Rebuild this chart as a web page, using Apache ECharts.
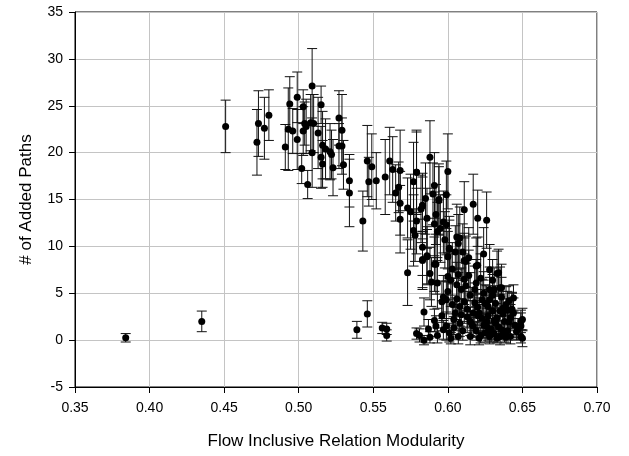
<!DOCTYPE html>
<html lang="en">
<head>
    <meta charset="utf-8" />
    <title>Added paths vs modularity</title>
    <script src="https://cdn.jsdelivr.net/npm/echarts@6/dist/echarts.min.js"></script>
    <style>
        html, body { margin: 0; padding: 0; background: #fff; }
        #main { width: 629px; height: 456px; }
    </style>
</head>
<body>
    <div id="main"></div>
    <script>
        // flow inclusive relation modularity (x)
        var modularity = [
            0.384, 0.435, 0.451, 0.472, 0.473, 0.477, 0.480, 0.491, 0.493, 0.494,
            0.496, 0.499, 0.499, 0.502, 0.503, 0.503, 0.504, 0.505, 0.506, 0.508,
            0.509, 0.509, 0.510, 0.513, 0.515, 0.515, 0.516, 0.516, 0.518, 0.521,
            0.522, 0.523, 0.527, 0.529, 0.527, 0.529, 0.530, 0.534, 0.534, 0.543,
            0.546, 0.547, 0.549, 0.552, 0.558, 0.561, 0.563, 0.565, 0.567, 0.568,
            0.568, 0.568, 0.573, 0.575, 0.573, 0.577, 0.579, 0.579, 0.577, 0.578,
            0.582, 0.583, 0.585, 0.586, 0.588, 0.583, 0.586, 0.583, 0.591, 0.590,
            0.594, 0.592, 0.599, 0.600, 0.591, 0.595, 0.593, 0.597, 0.599, 0.598,
            0.601, 0.592, 0.611, 0.617, 0.620, 0.626, 0.606, 0.608, 0.607, 0.610,
            0.605, 0.614, 0.611, 0.619, 0.600, 0.624, 0.620, 0.634, 0.636, 0.630,
            0.628, 0.640, 0.643, 0.650, 0.649, 0.650, 0.601, 0.612, 0.600, 0.602,
            0.607, 0.606, 0.611, 0.609, 0.615, 0.618, 0.597, 0.599, 0.603, 0.608,
            0.611, 0.623, 0.626, 0.628, 0.635, 0.630, 0.617, 0.613, 0.604, 0.599,
            0.601, 0.607, 0.615, 0.621, 0.628, 0.635, 0.642, 0.649, 0.626, 0.632,
            0.638, 0.645, 0.617, 0.608, 0.539, 0.546, 0.556, 0.559, 0.559, 0.584,
            0.579, 0.581, 0.584, 0.587, 0.591, 0.592, 0.593, 0.588, 0.597, 0.602,
            0.583, 0.586, 0.588, 0.591, 0.589, 0.593, 0.596, 0.600, 0.633, 0.635,
            0.643, 0.649, 0.583, 0.594, 0.579, 0.619, 0.623, 0.625, 0.627, 0.629,
            0.631, 0.633, 0.636, 0.637, 0.640, 0.620, 0.624, 0.628, 0.630, 0.615,
            0.610, 0.605, 0.632, 0.626, 0.622, 0.642, 0.646, 0.639, 0.641, 0.644,
            0.604, 0.609, 0.613, 0.616, 0.618, 0.621, 0.624, 0.627, 0.629, 0.631,
            0.634, 0.637, 0.639, 0.641, 0.644, 0.647, 0.612, 0.619, 0.625, 0.631,
            0.636, 0.622, 0.627, 0.633, 0.606, 0.614, 0.620, 0.596, 0.603, 0.638
        ];
        // # of added paths (mean)
        var addedPaths = [
            0.25, 2.0, 22.8, 21.1, 23.1, 22.6, 24.0, 20.6, 22.5, 25.2,
            22.3, 21.4, 25.9, 18.3, 24.9, 22.3, 23.1, 22.8, 16.6, 23.2,
            20.0, 27.1, 23.1, 22.1, 25.1, 19.5, 20.8, 18.8, 20.4, 20.1,
            19.8, 18.4, 23.7, 22.4, 20.7, 20.7, 18.7, 17.0, 15.7, 12.7,
            19.1, 16.9, 18.5, 17.0, 17.4, 19.1, 18.2, 15.7, 16.3, 18.1,
            14.6, 12.9, 14.1, 13.7, 7.2, 16.9, 17.9, 12.7, 11.7, 11.2,
            14.0, 14.4, 15.1, 13.0, 19.5, 9.9, 8.9, 8.5, 16.5, 15.6,
            15.0, 13.4, 15.5, 18.0, 12.4, 11.9, 11.6, 12.6, 12.3, 10.7,
            9.8, 8.1, 13.9, 14.5, 13.0, 12.8, 11.0, 10.9, 10.3, 9.4,
            9.4, 8.8, 8.5, 7.9, 8.9, 9.2, 8.0, 7.2, 5.6, 6.4,
            5.4, 3.2, 3.3, 2.2, 1.5, 0.2, 9.7, 8.4, 6.8, 6.4,
            7.0, 5.9, 6.5, 5.4, 4.8, 5.4, 4.6, 4.3, 3.8, 3.6,
            4.1, 4.3, 3.8, 4.3, 3.1, 3.1, 2.9, 2.5, 2.2, 1.5,
            0.8, 0.4, 0.4, 0.2, 0.4, 0.4, 0.4, 0.4, 1.5, 1.8,
            2.0, 1.6, 1.5, 1.8, 1.1, 2.8, 1.3, 1.2, 0.5, 3.0,
            0.7, 0.5, 0.0, 1.2, 2.1, 1.5, 0.5, 0.3, 1.1, 0.2,
            8.6, 9.0, 7.1, 8.1, 6.2, 6.1, 4.1, 5.2, 7.1, 5.6,
            3.2, 2.0, 14.3, 14.9, 17.9, 1.0, 2.3, 0.8, 2.6, 1.2,
            0.7, 2.4, 1.1, 2.8, 1.0, 3.5, 5.0, 7.5, 4.8, 2.0,
            1.0, 2.9, 3.9, 2.0, 0.5, 2.4, 0.9, 3.8, 4.2, 4.5,
            1.3, 2.7, 3.3, 1.7, 4.0, 2.9, 1.6, 3.6, 0.6, 2.1,
            1.4, 3.4, 0.3, 1.9, 2.9, 1.2, 5.8, 6.1, 3.9, 5.4,
            4.6, 6.6, 0.9, 0.2, 4.4, 6.9, 2.6, 2.6, 7.6, 0.6
        ];
        // half length of the error bar
        var errHalf = [
            0.45, 1.1, 2.8, 3.5, 3.5, 3.3, 2.7, 2.4, 4.4, 2.9,
            2.4, 3.2, 2.7, 1.6, 1.8, 2.6, 2.3, 2.9, 1.5, 3.0,
            3.7, 4.0, 3.1, 3.8, 2.0, 3.3, 3.6, 2.5, 3.2, 3.0,
            2.6, 3.0, 2.9, 3.8, 2.4, 3.0, 2.6, 2.8, 3.6, 3.2,
            3.8, 2.6, 3.5, 3.0, 4.0, 3.6, 3.5, 3.0, 2.7, 4.3,
            3.4, 3.6, 3.2, 4.0, 3.5, 4.2, 4.5, 3.5, 3.8, 2.8,
            3.6, 3.0, 3.8, 3.2, 3.9, 3.0, 2.9, 3.1, 3.5, 3.3,
            3.8, 3.2, 3.6, 4.0, 3.4, 3.6, 3.1, 3.3, 3.2, 3.0,
            3.4, 3.2, 3.0, 3.2, 3.0, 3.0, 3.5, 3.3, 3.1, 3.0,
            2.8, 3.2, 2.9, 3.0, 2.7, 2.8, 3.0, 2.5, 2.5, 2.2,
            2.4, 2.0, 1.8, 1.2, 1.4, 0.9, 3.1, 2.7, 2.5, 2.8,
            2.6, 2.4, 2.7, 2.3, 2.4, 2.5, 2.3, 2.0, 2.2, 2.1,
            2.3, 2.2, 2.0, 2.4, 1.8, 2.0, 1.9, 1.7, 1.6, 1.5,
            1.0, 0.8, 0.9, 0.7, 0.8, 0.9, 0.8, 0.7, 1.3, 1.4,
            1.5, 1.3, 1.2, 1.4, 0.9, 1.4, 0.6, 0.6, 0.6, 1.5,
            0.6, 0.7, 0.5, 1.0, 1.2, 1.1, 0.8, 0.6, 1.0, 0.6,
            3.0, 3.1, 2.8, 2.9, 2.6, 2.7, 2.2, 2.4, 2.4, 2.2,
            1.8, 1.2, 3.5, 3.6, 4.3, 1.0, 1.5, 1.0, 1.6, 1.1,
            0.9, 1.5, 1.0, 1.6, 1.0, 1.9, 2.3, 2.7, 2.2, 1.5,
            1.0, 1.6, 1.9, 1.4, 0.8, 1.4, 0.9, 1.9, 1.6, 1.4,
            1.2, 1.7, 1.9, 1.3, 2.1, 1.6, 1.3, 1.8, 0.8, 1.4,
            1.2, 1.8, 0.6, 1.3, 1.6, 1.1, 2.4, 2.5, 2.0, 2.3,
            2.1, 2.6, 0.9, 0.5, 2.2, 2.7, 1.6, 1.6, 2.8, 0.8
        ];

        var xTicks = { min: 0.35, max: 0.70, step: 0.05 };
        var yTicks = { min: -5, max: 35, step: 5 };

        var points = [];
        var bars = [];
        for (var i = 0; i < modularity.length; i++) {
            points.push([modularity[i], addedPaths[i]]);
            bars.push([modularity[i], addedPaths[i], errHalf[i]]);
        }

        var font = "'Liberation Sans', Arial, sans-serif";
        var chart = echarts.init(document.getElementById('main'));

        var option = {
            animation: false,
            backgroundColor: '#fff',
            grid: {
                left: 75, right: 32, top: 12, bottom: 69,
                show: true, borderColor: '#000', borderWidth: 1
            },
            xAxis: {
                type: 'value',
                min: xTicks.min, max: xTicks.max, interval: xTicks.step,
                name: 'Flow Inclusive Relation Modularity',
                nameLocation: 'middle',
                nameGap: 46,
                nameTextStyle: { color: '#000', fontSize: 17, fontFamily: font },
                axisLine: { onZero: false, lineStyle: { color: '#000', width: 1 } },
                axisTick: { show: true, length: 6, lineStyle: { color: '#000' } },
                axisLabel: {
                    color: '#000', fontSize: 14, fontFamily: font, margin: 14,
                    formatter: function (v) { return v.toFixed(2); }
                },
                splitLine: { show: true, lineStyle: { color: '#c4c4c4', width: 1 } }
            },
            yAxis: {
                type: 'value',
                min: yTicks.min, max: yTicks.max, interval: yTicks.step,
                name: '# of Added Paths',
                nameLocation: 'middle',
                nameGap: 40,
                nameTextStyle: { color: '#000', fontSize: 17, fontFamily: font },
                axisLine: { show: true, onZero: false, lineStyle: { color: '#000', width: 1 } },
                axisTick: { show: true, length: 6, lineStyle: { color: '#000' } },
                axisLabel: { color: '#000', fontSize: 14, fontFamily: font, margin: 12 },
                splitLine: { show: true, lineStyle: { color: '#c4c4c4', width: 1 } }
            },
            series: [
                {
                    type: 'custom',
                    data: bars,
                    encode: { x: 0, y: 1 },
                    silent: true,
                    renderItem: function (params, api) {
                        var x = api.value(0), y = api.value(1), e = api.value(2);
                        var top = api.coord([x, y + e]);
                        var bot = api.coord([x, y - e]);
                        var cap = 5;
                        var st = { stroke: '#111', lineWidth: 1 };
                        return {
                            type: 'group',
                            children: [
                                { type: 'line', shape: { x1: top[0], y1: top[1], x2: bot[0], y2: bot[1] }, style: st },
                                { type: 'line', shape: { x1: top[0] - cap, y1: top[1], x2: top[0] + cap, y2: top[1] }, style: st },
                                { type: 'line', shape: { x1: bot[0] - cap, y1: bot[1], x2: bot[0] + cap, y2: bot[1] }, style: st }
                            ]
                        };
                    }
                },
                {
                    type: 'scatter',
                    data: points,
                    symbol: 'circle',
                    symbolSize: 7,
                    itemStyle: { color: '#000', opacity: 1 },
                    silent: true
                }
            ]
        };

        chart.setOption(option);
    </script>
</body>
</html>
